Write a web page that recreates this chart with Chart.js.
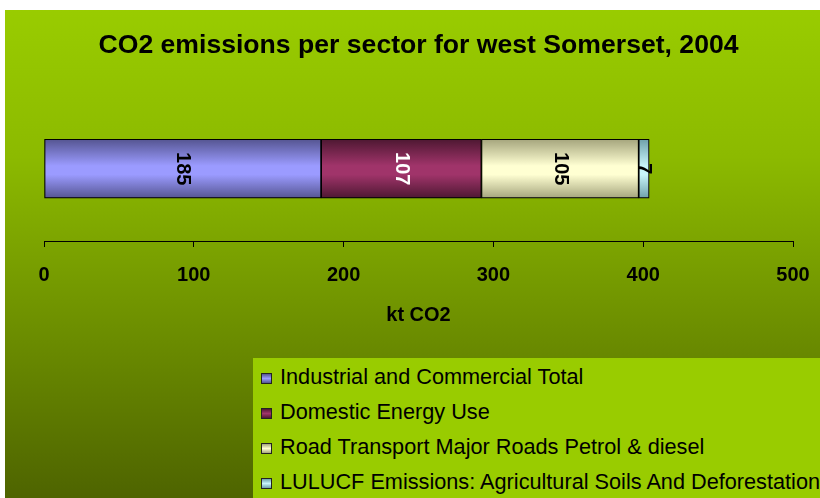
<!DOCTYPE html>
<html>
<head>
<meta charset="utf-8">
<script src="https://cdn.jsdelivr.net/npm/chart.js@4/dist/chart.umd.min.js"></script>
<style>
  html, body { margin: 0; padding: 0; background: #ffffff; width: 820px; height: 498px; overflow: hidden; position: relative; }
  #wrap { position: absolute; left: 5px; top: 10px; width: 815px; height: 488px; }
  #legend { position: absolute; left: 253px; top: 358px; width: 600px; height: 160px; background: #99cc00;
            font-family: "Liberation Sans", Arial, sans-serif; font-size: 21.7px; color: #000; }
  .item { position: absolute; left: 0; height: 35px; line-height: 35px; white-space: nowrap; }
  .mark { position: absolute; left: 8px; top: 13px; width: 9px; height: 9px; border: 1px solid #222; }
  .txt { position: absolute; left: 27px; top: -1px; }
</style>
</head>
<body>
<div id="wrap"><canvas id="c" width="815" height="488"></canvas></div>
<div id="legend"></div>
<script>
const chartTitle = "CO2 emissions per sector for west Somerset, 2004";
const axisTitle = "kt CO2";
const categories = [""];
const seriesNames = [
  "Industrial and Commercial Total",
  "Domestic Energy Use",
  "Road Transport Major Roads Petrol & diesel",
  "LULUCF Emissions: Agricultural Soils And Deforestation"
];
const industrial = [185];
const domestic = [107];
const roadTransport = [105];
const lulucf = [7];
const tickValues = [0, 100, 200, 300, 400, 500];

const seriesValues = [industrial, domestic, roadTransport, lulucf];
const lightColors = ["rgb(155,155,255)", "rgb(160,52,106)", "rgb(255,255,210)", "rgb(200,245,250)"];
const darkColors  = ["rgb(85,85,145)",   "rgb(78,24,50)",   "rgb(165,165,125)", "rgb(110,160,170)"];
const labelColors = ["#000", "#fff", "#000", "#000"];
const BAR = 59;

function barGradient(i) {
  return function(ctx) {
    const chart = ctx.chart;
    const area = chart.chartArea;
    if (!area || !isFinite(area.top) || !isFinite(area.bottom)) return lightColors[i];
    const cy = (area.top + area.bottom) / 2;
    const g = chart.ctx.createLinearGradient(0, cy - BAR/2, 0, cy + BAR/2);
    g.addColorStop(0, darkColors[i]);
    g.addColorStop(0.45, lightColors[i]);
    g.addColorStop(0.6, lightColors[i]);
    g.addColorStop(1, darkColors[i]);
    return g;
  };
}

const bgPlugin = {
  id: 'bg',
  beforeDraw(chart) {
    const c = chart.ctx;
    const g = c.createLinearGradient(0, 0, 0, chart.height);
    g.addColorStop(0, "rgb(153,204,0)");
    g.addColorStop(0.3, "rgb(140,186,0)");
    g.addColorStop(1, "rgb(78,100,0)");
    c.save();
    c.fillStyle = g;
    c.fillRect(0, 0, chart.width, chart.height);
    c.restore();
  }
};

const labelPlugin = {
  id: 'barLabels',
  afterDatasetsDraw(chart) {
    const c = chart.ctx;
    c.save();
    c.font = "bold 20px 'Liberation Sans', Arial, sans-serif";
    c.textAlign = "center";
    c.textBaseline = "middle";
    chart.data.datasets.forEach((ds, i) => {
      const meta = chart.getDatasetMeta(i);
      meta.data.forEach((el, j) => {
        const p = el.getProps(['x', 'y', 'base'], true);
        const cx = (p.x + p.base) / 2;
        c.save();
        c.translate(cx, p.y);
        c.rotate(Math.PI / 2);
        c.fillStyle = labelColors[i];
        c.fillText(String(ds.data[j]), 0, 0);
        c.restore();
      });
    });
    c.restore();
  }
};

const chart = new Chart(document.getElementById('c'), {
  type: 'bar',
  data: {
    labels: categories,
    datasets: seriesNames.map((name, i) => ({
      label: name,
      data: seriesValues[i],
      backgroundColor: barGradient(i),
      borderColor: "#000",
      borderWidth: 1.2,
      borderSkipped: false,
      barThickness: BAR
    }))
  },
  options: {
    indexAxis: 'y',
    responsive: false,
    animation: false,
    devicePixelRatio: 1,
    layout: { padding: { left: 39, right: 27, top: 0, bottom: 172 } },
    plugins: {
      legend: { display: false },
      tooltip: { enabled: false },
      title: {
        display: true,
        text: chartTitle,
        color: "#000",
        font: { family: "'Liberation Sans', Arial, sans-serif", size: 26.6, weight: 'bold', lineHeight: 1.2 },
        padding: { top: 20, bottom: 34.5 }
      }
    },
    scales: {
      x: {
        stacked: true,
        min: 0, max: 500,
        afterBuildTicks(scale) { scale.ticks = tickValues.map(v => ({ value: v })); },
        afterFit(scale) { scale.paddingRight = 0; scale.paddingLeft = 0; },
        grid: { display: true, drawOnChartArea: false, drawTicks: true, tickLength: 6, color: "#000", lineWidth: 1 },
        border: { display: true, color: "#000", width: 1 },
        ticks: { color: "#000", padding: 16, maxRotation: 0,
                 font: { family: "'Liberation Sans', Arial, sans-serif", size: 20, weight: 'bold', lineHeight: 1.2 } },
        title: { display: true, text: axisTitle, color: "#000", padding: { top: 1, bottom: 0 },
                 font: { family: "'Liberation Sans', Arial, sans-serif", size: 20, weight: 'bold', lineHeight: 1.1 } }
      },
      y: { stacked: true, display: false }
    }
  },
  plugins: [bgPlugin, labelPlugin]
});

// HTML legend built from the chart's datasets
const legend = document.getElementById('legend');
chart.data.datasets.forEach((ds, i) => {
  const row = document.createElement('div');
  row.className = 'item';
  row.style.top = (2 + i * 35) + 'px';
  const m = document.createElement('span');
  m.className = 'mark';
  m.style.background = `linear-gradient(${darkColors[i]}, ${lightColors[i]} 50%, ${darkColors[i]})`;
  const t = document.createElement('span');
  t.className = 'txt';
  t.textContent = ds.label;
  row.appendChild(m); row.appendChild(t);
  legend.appendChild(row);
});
</script>
</body>
</html>
